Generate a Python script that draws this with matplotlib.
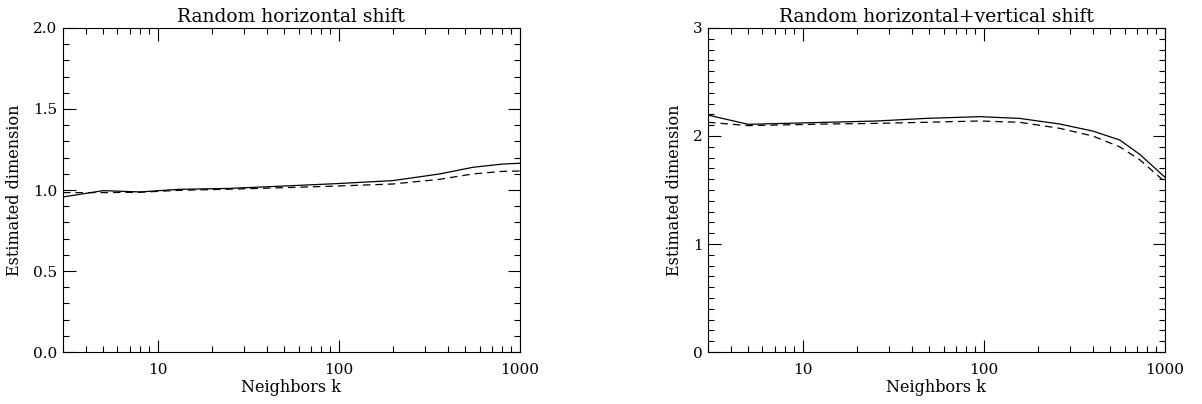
import matplotlib.pyplot as plt
from matplotlib.ticker import FixedLocator, MultipleLocator, NullFormatter

# neighbours k sampled along the curves
k_left = [3, 5, 8, 13, 25, 56, 100, 199, 361, 550, 800, 1000]
left_solid = [0.957, 0.996, 0.988, 1.004, 1.010, 1.027, 1.040, 1.058, 1.099, 1.140, 1.160, 1.165]
left_dashed = [0.984, 0.984, 0.986, 0.998, 1.005, 1.016, 1.025, 1.037, 1.066, 1.099, 1.115, 1.117]

k_right = [3, 5, 13.6, 25.7, 48, 95, 158, 263, 400, 564, 728, 1000]
right_solid = [2.194, 2.108, 2.127, 2.139, 2.163, 2.179, 2.163, 2.111, 2.046, 1.963, 1.830, 1.620]
right_dashed = [2.127, 2.096, 2.111, 2.117, 2.127, 2.139, 2.127, 2.071, 2.000, 1.900, 1.780, 1.577]

titles = ["Random horizontal shift", "Random horizontal+vertical shift"]
xlabel = "Neighbors k"
ylabel = "Estimated dimension"

plt.rcParams["font.family"] = ["DejaVu Serif"]

fig = plt.figure(figsize=(12.02, 4.04), dpi=100)
ax1 = fig.add_axes([0.0524, 0.1287, 0.380, 0.802])
ax2 = fig.add_axes([0.589, 0.1287, 0.380, 0.802])


def style_axis(ax, ymax, ymajor, yfmt):
    ax.set_xscale("log")
    ax.set_xlim(3, 1000)
    ax.set_ylim(0, ymax)
    ax.xaxis.set_major_locator(FixedLocator([10, 100, 1000]))
    ax.set_xticklabels(["10", "100", "1000"])
    minors = [m * d for d in (1, 10, 100) for m in range(2, 10)]
    ax.xaxis.set_minor_locator(FixedLocator(minors))
    ax.xaxis.set_minor_formatter(NullFormatter())
    ax.yaxis.set_major_locator(MultipleLocator(ymajor))
    ax.yaxis.set_minor_locator(MultipleLocator(0.1))
    ax.yaxis.set_major_formatter(yfmt)
    ax.tick_params(which="both", direction="in", top=True, right=True,
                   labelsize=11, width=0.8)
    ax.tick_params(axis="x", pad=8)
    ax.tick_params(axis="y", pad=4)
    ax.tick_params(which="major", length=9)
    ax.tick_params(which="minor", length=4.5)
    for s in ax.spines.values():
        s.set_linewidth(0.8)
    ax.set_xlabel(xlabel, fontsize=11.5, labelpad=1)
    ax.set_ylabel(ylabel, fontsize=11.5, labelpad=7)


ax1.plot(k_left, left_solid, color="black", lw=0.9)
ax1.plot(k_left, left_dashed, color="black", lw=0.9, linestyle=(0, (6, 4)))
style_axis(ax1, 2.0, 0.5, "{x:.1f}")
ax1.set_title(titles[0], fontsize=13.5, pad=4)

ax2.plot(k_right, right_solid, color="black", lw=0.9)
ax2.plot(k_right, right_dashed, color="black", lw=0.9, linestyle=(0, (6, 4)))
style_axis(ax2, 3.0, 1.0, "{x:.0f}")
ax2.set_title(titles[1], fontsize=13.5, pad=4)

fig.savefig("out.png", dpi=100)
